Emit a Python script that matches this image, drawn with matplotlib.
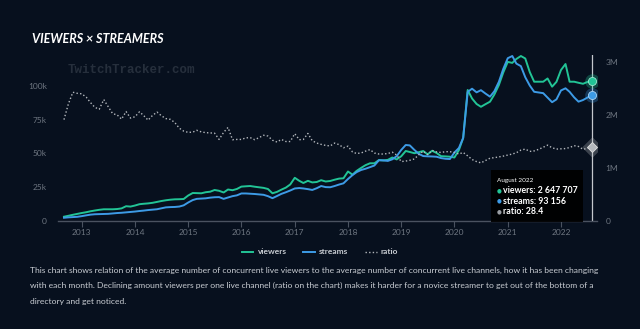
import matplotlib
matplotlib.use('Agg')
import matplotlib.pyplot as plt
import pandas as pd
from matplotlib.patches import Rectangle

# monthly averages, Sep 2012 .. Aug 2022
months = pd.date_range('2012-09-01', '2022-08-01', freq='MS')

viewers_k = [
    81, 98, 117, 134, 151, 166, 183, 198, 211, 221, 221, 221, 226, 238, 279, 272,
    292, 317, 325, 332, 343, 360, 377, 391, 402, 409, 411, 415, 481, 528,
    526, 523, 543, 553, 585, 570, 538, 594, 581, 604, 649, 655, 660, 647, 636, 625,
    604, 523, 549, 591, 630, 689, 815, 758, 717, 758, 728, 736, 770, 745, 755, 779,
    800, 806, 934, 874, 945, 1002, 1053, 1089, 1089, 1149, 1143, 1153, 1198, 1162,
    1221, 1321, 1302, 1279, 1298, 1321, 1257, 1325, 1283, 1223, 1219, 1213, 1198,
    1340, 1566, 2472, 2311, 2208, 2155, 2204, 2251, 2387, 2566, 2802, 3002, 2983,
    3057, 3113, 3066, 2809, 2628, 2628, 2628, 2689, 2534, 2626, 2849, 2962, 2628,
    2628, 2608, 2589, 2623, 2647.707,
]
streams_k = [
    2.4, 2.7, 2.9, 3.1, 3.6, 4.2, 4.7, 5.0, 5.1, 5.2, 5.3, 5.6, 5.9, 6.1, 6.4, 6.7,
    7.0, 7.4, 7.7, 8.1, 8.4, 8.7, 9.4, 10.1, 10.3, 10.4, 10.7, 11.6, 13.7, 15.5,
    16.4, 16.6, 16.8, 17.3, 17.6, 17.7, 16.4, 17.4, 18.4, 19.0, 20.4, 20.4, 20.2,
    20.0, 19.7, 19.4, 18.4, 16.9, 18.5, 20.1, 21.3, 22.6, 24.1, 24.4, 24.1, 23.6,
    23.0, 24.3, 25.9, 25.1, 25.0, 25.9, 27.0, 27.9, 31.1, 34.0, 36.2, 37.8, 38.7,
    39.9, 41.1, 45.0, 44.9, 44.5, 45.7, 48.0, 52.6, 56.3, 56.0, 52.7, 49.8, 48.1,
    47.9, 47.8, 47.6, 46.6, 46.1, 45.9, 50.7,
    54.1, 61.5, 95.6, 98.0, 95.3, 96.9, 94.4, 92.1, 96.1, 103.1, 112.6, 120.6,
    122.2, 116.6, 114.7, 106.5, 100.3, 95.7, 95.2, 94.7, 91.4, 88.0, 90.1, 96.7,
    98.3, 95.7, 91.6, 88.4, 89.6, 91.4, 93.156,
]
ratio = [
    38.9, 44.9, 49.4, 49.0, 48.8, 47.5, 45.5, 43.6, 42.9, 46.6, 43.9, 41.2, 40.7,
    39.1, 42.0, 39.5, 40.0, 41.9, 40.5, 38.7, 40.5, 41.8, 40.4, 39.3, 39.0, 37.8,
    35.6, 34.5, 34.0, 34.1,
    34.8, 34.2, 33.9, 33.8, 33.7, 31.3, 34.0, 35.9, 31.2, 31.3, 31.3, 31.9, 32.0,
    31.2, 32.0, 32.9, 32.6, 31.0, 30.3, 31.3, 30.5, 30.5, 33.5, 31.2, 31.3, 33.6,
    30.8, 29.9, 29.4, 29.0, 28.8, 29.9, 29.3, 28.1, 28.7, 26.5, 25.9, 26.1, 26.8,
    27.4, 26.1, 25.7, 25.7, 25.9, 26.4, 25.3, 22.8, 23.0, 23.3, 23.8, 25.4, 26.8,
    25.5, 27.1, 26.5, 26.3, 26.6, 26.6, 26.3,
    25.7, 26.3, 25.0, 23.6, 22.8, 22.3, 23.2, 24.1, 24.3, 24.6, 24.9, 25.3, 25.7,
    26.2, 27.2, 27.6, 26.7, 26.9, 27.5, 28.3, 29.1, 28.1, 27.6, 27.7, 27.8, 28.2,
    28.9, 28.6, 27.5, 27.9, 28.4,
]

years = list(range(2013, 2023))
left_ticks = [0, 25, 50, 75, 100]
left_labels = ['0', '25k', '50k', '75k', '100k']
right_ticks = [0, 1000, 2000, 3000]
right_labels = ['0', '1M', '2M', '3M']

description = [
    "This chart shows relation of the average number of concurrent live viewers to the average "
    "number of concurrent live channels, how it has been changing",
    "with each month. Declining amount viewers per one live channel (ratio on the chart) makes it "
    "harder for a novice streamer to get out of the bottom of a",
    "directory and get noticed.",
]

BG = '#07101e'
GREEN = '#22c496'
BLUE = '#3d9be6'
GREY = '#b4b8bd'
TICK = '#6e7681'
AXIS = '#4a5260'

plt.rcParams['font.family'] = ['Lato', 'DejaVu Sans']

W, H = 640, 329
fig = plt.figure(figsize=(W / 100, H / 100), dpi=100, facecolor=BG)

# plot area in pixels: x 58..597, y 55..221
ax_v = fig.add_axes([58 / W, (H - 221) / H, 539 / W, 166 / H])
ax_v.set_facecolor(BG)
ax_s = ax_v.twinx()
ax_r = ax_v.twinx()

ax_v.set_xlim(pd.Timestamp('2012-07-22'), pd.Timestamp('2022-09-05'))
ax_v.set_ylim(0, 3132)
ax_s.set_ylim(0, 122.96)
ax_r.set_ylim(0, 63.7)

# crosshair at the hovered month
ax_v.axvline(months[-1], color='#c4c7cc', lw=0.9, zorder=1)

line_v, = ax_v.plot(months, viewers_k, color=GREEN, lw=1.4, zorder=2)
line_s, = ax_s.plot(months, streams_k, color=BLUE, lw=1.4, zorder=2)
line_r, = ax_r.plot(months, ratio, color=GREY, lw=1.0, linestyle=(0, (1, 1.6)), zorder=2)

# hover markers at the last point
ax_v.scatter(months[-1], viewers_k[-1], s=110, color=GREEN, alpha=0.3, lw=0, zorder=3)
ax_v.scatter(months[-1], viewers_k[-1], s=34, color=GREEN, edgecolors='#9be8cf', lw=0.6, zorder=4)
ax_s.scatter(months[-1], streams_k[-1], s=110, color=BLUE, alpha=0.3, lw=0, zorder=3)
ax_s.scatter(months[-1], streams_k[-1], s=34, color=BLUE, edgecolors='#a9d3f5', lw=0.6, zorder=4)
ax_r.scatter(months[-1], ratio[-1], s=110, color=GREY, alpha=0.3, lw=0, marker='D', zorder=3)
ax_r.scatter(months[-1], ratio[-1], s=26, color=GREY, edgecolors='#e0e0e0', lw=0.6, marker='D', zorder=4)

for a in (ax_v, ax_s, ax_r):
    for sp in a.spines.values():
        sp.set_visible(False)
ax_v.spines['bottom'].set_visible(True)
ax_v.spines['bottom'].set_color(AXIS)
ax_v.spines['bottom'].set_linewidth(1.0)

ax_v.set_xticks([pd.Timestamp(f'{y}-01-01') for y in years])
ax_v.set_xticklabels([str(y) for y in years])
ax_v.tick_params(axis='x', length=4, width=0.8, color=AXIS, labelcolor=TICK,
                 labelsize=6, pad=2)

ax_v.yaxis.tick_right()
ax_v.set_yticks(right_ticks)
ax_v.set_yticklabels(right_labels)
ax_v.tick_params(axis='y', length=0, labelcolor=TICK, labelsize=6, pad=6)

ax_s.yaxis.tick_left()
ax_s.set_yticks(left_ticks)
ax_s.set_yticklabels(left_labels)
ax_s.tick_params(axis='y', length=0, labelcolor=TICK, labelsize=6, pad=8)

ax_r.set_yticks([])

# title and watermark
fig.text(32 / W, 1 - 39 / H, 'VIEWERS \u00d7 STREAMERS', color='white', fontsize=9,
         weight='bold', style='italic', va='center')
fig.text(68 / W, 1 - 70 / H, 'TwitchTracker.com', color='#262f3c', fontsize=9,
         family='Liberation Mono', weight='bold', va='center')

# tooltip
fig.patches.append(Rectangle((491 / W, 1 - 222 / H), 92 / W, 52 / H, transform=fig.transFigure,
                             facecolor='black', edgecolor='none', alpha=0.92, zorder=10))
fig.text(497 / W, 1 - 180.5 / H, 'August 2022', color='white', fontsize=4.6,
         va='center', zorder=11)
rows = [
    (GREEN, f"viewers: {viewers_k[-1] * 1000:,.0f}".replace(',', ' ')),
    (BLUE, f"streams: {streams_k[-1] * 1000:,.0f}".replace(',', ' ')),
    ('#9a9ea3', f"ratio: {ratio[-1]}"),
]
for i, (c, txt) in enumerate(rows):
    yy = 1 - (190.7 + 10.6 * i) / H
    fig.text(497 / W, yy, '\u25cf', color=c, fontsize=4, va='center', zorder=11,
             family='DejaVu Sans')
    fig.text(503 / W, yy, txt, color='white', fontsize=6.3, weight='bold',
             va='center', zorder=11)

fig.legend(handles=[line_v, line_s, line_r], labels=['viewers', 'streams', 'ratio'],
           loc='center', bbox_to_anchor=(0.5, 1 - 252 / H), ncol=3, frameon=False,
           prop={'size': 6, 'weight': 'bold'}, labelcolor='#c8ccd2',
           handlelength=1.4, handletextpad=0.5, columnspacing=2.0)

for i, line in enumerate(description):
    fig.text(30 / W, 1 - (270.5 + 15.3 * i) / H, line, color='#c9cdd3', fontsize=6.1,
             va='center')

fig.savefig('out.png', dpi=100, facecolor=BG)
